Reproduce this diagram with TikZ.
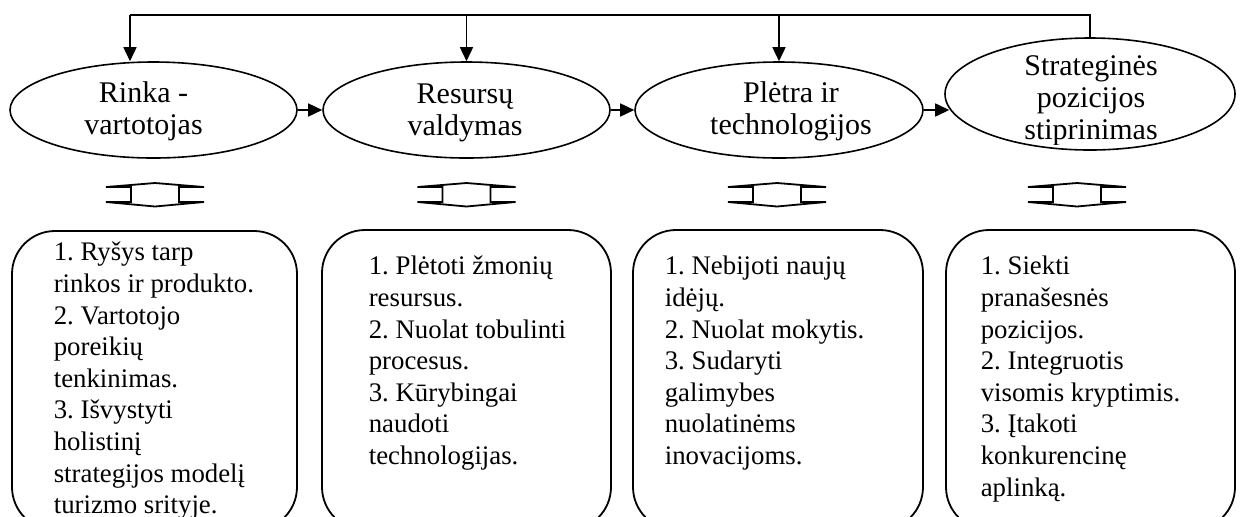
\documentclass[tikz,border=0pt]{standalone}
\usepackage{fontspec}
\setmainfont{Liberation Serif}
\usetikzlibrary{shapes.geometric,arrows.meta}
\begin{document}
\frenchspacing
\begin{tikzpicture}[x=0.5pt,y=-0.5pt,
  line width=0.8pt,
  ell/.style={draw, ellipse, inner sep=0pt, line width=0.8pt},
  etext/.style={align=center, inner sep=0pt, font=\fontsize{15pt}{16pt}\selectfont},
  roundbox/.style={draw, rectangle, rounded corners=21.5pt, inner sep=0pt, line width=0.9pt},
  btext/.style={align=left, inner sep=0pt, anchor=north west, font=\fontsize{13.4pt}{15.8pt}\selectfont},
  arr/.style={-{Triangle[length=7pt,width=6.5pt]}},
  updown/.pic={\draw[line width=0.9pt, line join=miter]
     (-24,-7.5) -- (-49,-7.5) -- (0,-11.5) -- (49,-7.5) -- (24,-7.5) -- (24,7.5)
     -- (49,7.5) -- (0,12) -- (-49,7.5) -- (-24,7.5) -- cycle;}
]
\useasboundingbox (0,0) rectangle (1242,516);
\clip (0,0) rectangle (1242,516);

% ellipses
\node[ell, minimum width=143.5pt, minimum height=48pt] (e1) at (153.5,110) {};
\node[ell, minimum width=143.5pt, minimum height=48pt] (e2) at (466.5,110) {};
\node[ell, minimum width=144pt, minimum height=48pt] (e3) at (779,110) {};
\node[ell, minimum width=145pt, minimum height=56pt] (e4) at (1090,94) {};

\node[etext] (t1) at (143.5,112) {\strut Rinka -\\vartotojas\strut};
\node[etext] (t2) at (465,113) {\strut Resursų\\valdymas\strut};
\node[etext] (t3) at (791,112) {\strut Plėtra ir\\technologijos\strut};
\begin{scope}
\clip (940,0) rectangle (1240,144);
\node[etext] (t4) at (1091,101) {\strut Strateginės\\pozicijos\\stiprinimas\strut};
\end{scope}

% top connector
\coordinate (tr) at (1090,15);
\coordinate (tl) at (130,15);
\draw (e4.north) -- (tr) -- (tl);
\draw[arr] (tl) -- (tl |- e1.north);
\draw[arr] (e2.north |- tl) -- (e2.north);
\draw[arr] (e3.north |- tl) -- (e3.north);

% horizontal arrows
\draw[arr] (e1.east) -- (e2.west);
\draw[arr] (e2.east) -- (e3.west);
\draw[arr] (e3.east) -- (e3.east -| e4.186.6);

% double arrows
\pic (d1) at (155,194.5) {updown};
\pic (d2) at (466.5,194.5) {updown};
\pic (d3) at (777,194.5) {updown};
\pic (d4) at (1077,194.5) {updown};

% boxes
\node[roundbox, minimum width=142.5pt, minimum height=149.5pt] (b1) at (154.5,380.5) {};
\node[roundbox, minimum width=144.5pt, minimum height=150pt] (b2) at (466.5,380) {};
\node[roundbox, minimum width=145pt, minimum height=150pt] (b3) at (778,380) {};
\node[roundbox, minimum width=144.5pt, minimum height=150pt] (b4) at (1090.5,380) {};

\node[btext] (x1) at (53,238) {\strut 1. Ryšys tarp\\rinkos ir produkto.\\2. Vartotojo\\poreikių\\tenkinimas.\\3. Išvystyti\\holistinį\\strategijos modelį\\turizmo srityje.};
\node[btext] (x2) at (368,252) {\strut 1. Plėtoti žmonių\\resursus.\\2. Nuolat tobulinti\\procesus.\\3. Kūrybingai\\naudoti\\technologijas.};
\node[btext] (x3) at (664,252) {\strut 1. Nebijoti naujų\\idėjų.\\2. Nuolat mokytis.\\3. Sudaryti\\galimybes\\nuolatinėms\\inovacijoms.};
\node[btext] (x4) at (980,252) {\strut 1. Siekti\\pranašesnės\\pozicijos.\\2. Integruotis\\visomis kryptimis.\\3. Įtakoti\\konkurencinę\\aplinką.};
\end{tikzpicture}
\end{document}
